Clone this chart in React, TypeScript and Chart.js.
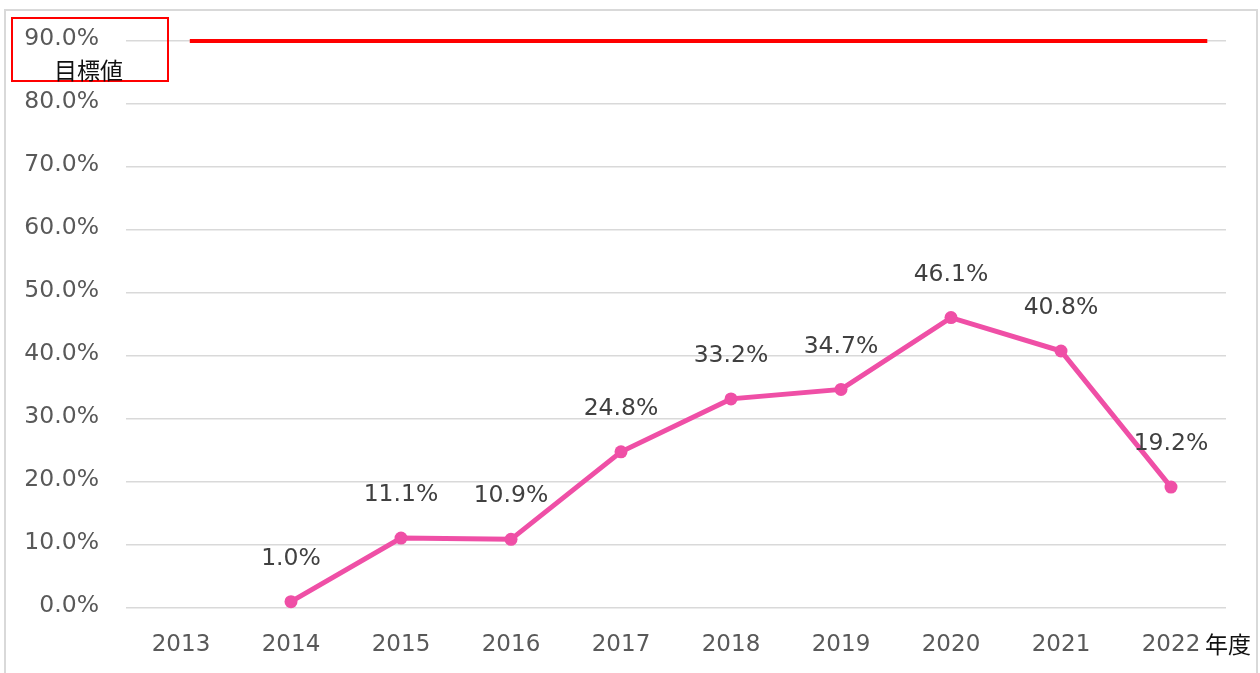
import React, { useEffect, useRef } from "react";
import { Chart, registerables } from "chart.js";

Chart.register(...registerables);

const years = ["2013", "2014", "2015", "2016", "2017", "2018", "2019", "2020", "2021", "2022"];
const rates: (number | null)[] = [null, 1.0, 11.1, 10.9, 24.8, 33.2, 34.7, 46.1, 40.8, 19.2];
const targetValue = 90;
const targetSpan = [0.58, 9.83];
const yTicks = [0, 10, 20, 30, 40, 50, 60, 70, 80, 90];

const FONT = "'DejaVu Sans', Verdana, sans-serif";
const CJK = "'Noto Sans CJK JP', sans-serif";

const labelPlugin = {
  id: "valueLabels",
  afterDatasetsDraw(chart: any) {
    const meta = chart.getDatasetMeta(0);
    const ctx = chart.ctx;
    ctx.save();
    ctx.font = `23.5px ${FONT}`;
    ctx.fillStyle = "#404040";
    ctx.textAlign = "center";
    ctx.textBaseline = "middle";
    meta.data.forEach((pt: any, i: number) => {
      const v = rates[i];
      if (v === null || v === undefined) return;
      ctx.fillText(v.toFixed(1) + "%", pt.x, pt.y - 43);
    });
    ctx.restore();
  },
};

export default function App() {
  const ref = useRef<HTMLCanvasElement>(null);
  useEffect(() => {
    if (!ref.current) return;
    const chart = new Chart(ref.current, {
      type: "line",
      data: {
        labels: years,
        datasets: [
          {
            data: rates,
            borderColor: "#EF4FA6",
            backgroundColor: "#EF4FA6",
            borderWidth: 5,
            pointRadius: 6.5,
            pointBorderWidth: 0,
            pointBackgroundColor: "#EF4FA6",
            clip: false as any,
            xAxisID: "x",
          },
          {
            data: targetSpan.map((x) => ({ x, y: targetValue })) as any,
            borderColor: "#FF0000",
            borderWidth: 4,
            pointRadius: 0,
            clip: false as any,
            xAxisID: "x2",
          },
        ],
      },
      options: {
        responsive: false,
        animation: false,
        layout: { padding: { top: 41, right: 34, left: 0, bottom: 0 } },
        plugins: { legend: { display: false }, tooltip: { enabled: false } },
        scales: {
          x: {
            type: "category",
            offset: true,
            grid: { display: false, drawTicks: false },
            border: { display: false },
            ticks: {
              color: "#595959",
              font: { family: FONT, size: 23 },
              padding: 23,
              maxRotation: 0,
              autoSkip: false,
            },
            afterFit: (s: any) => {
              s.height = 65;
            },
          },
          x2: {
            type: "linear",
            display: false,
            min: 0,
            max: 10,
          },
          y: {
            min: 0,
            max: 90,
            afterBuildTicks: (s: any) => {
              s.ticks = yTicks.map((v) => ({ value: v }));
            },
            grid: { color: "#d9d9d9", lineWidth: 1.5, drawTicks: false },
            border: { display: false },
            ticks: {
              color: "#595959",
              font: { family: FONT, size: 23.5 },
              padding: 27,
              labelOffset: -2,
              callback: (v: any) => Number(v).toFixed(1) + "%",
            },
            afterFit: (s: any) => {
              s.width = 126;
            },
          },
        },
      },
      plugins: [labelPlugin],
    });
    return () => chart.destroy();
  }, []);

  return (
    <div style={{ position: "fixed", left: 0, top: 0, width: 1260, height: 673, background: "#fff", overflow: "hidden" }}>
      <canvas ref={ref} width={1260} height={673} style={{ position: "absolute", left: 0, top: 0 }} />
      <div
        style={{
          position: "absolute",
          left: 4,
          top: 9,
          width: 1250,
          height: 700,
          border: "2px solid #d9d9d9",
          pointerEvents: "none",
        }}
      />
      <div
        style={{
          position: "absolute",
          left: 11,
          top: 17,
          width: 154,
          height: 61,
          border: "2px solid #FF0000",
        }}
      />
      <div
        style={{
          position: "absolute",
          left: 54,
          top: 55,
          fontFamily: CJK,
          fontSize: 23,
          lineHeight: "28px",
          color: "#111",
        }}
      >
        目標値
      </div>
      <div
        style={{
          position: "absolute",
          left: 1205,
          top: 629,
          fontFamily: CJK,
          fontSize: 23,
          lineHeight: "28px",
          color: "#111",
        }}
      >
        年度
      </div>
    </div>
  );
}
